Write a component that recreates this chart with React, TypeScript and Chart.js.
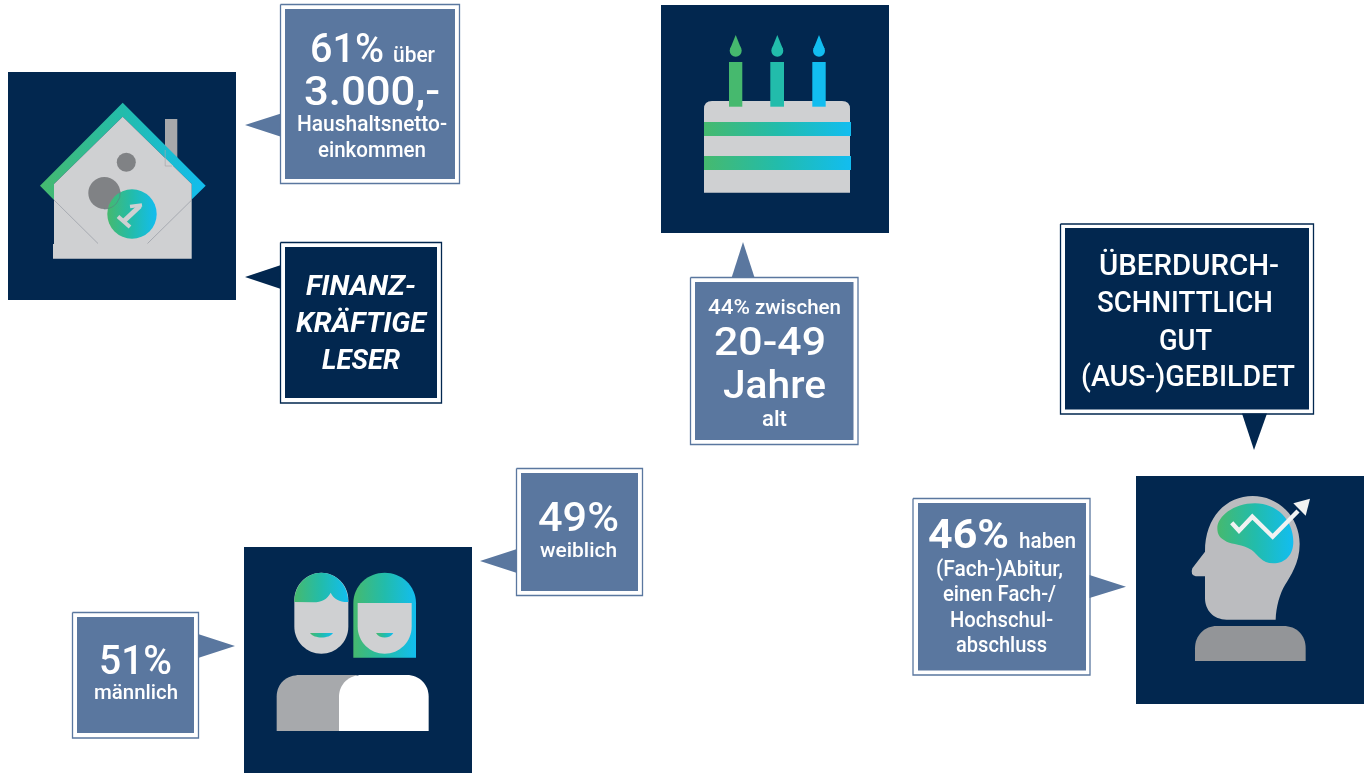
import React, { useEffect, useRef } from "react";
import { Chart, registerables } from "chart.js";

Chart.register(...registerables);

// ---- data ----
const incomeShare = 61;
const ageShare = 44;
const femaleShare = 49;
const maleShare = 51;
const educationShare = 46;
const incomeLines = ["über", "3.000,-", "Haushaltsnetto-", "einkommen"];
const financeLines = ["FINANZ-", "KRÄFTIGE", "LESER"];
const ageLines = ["zwischen", "20-49", "Jahre", "alt"];
const genderLabels = ["weiblich", "männlich"];
const educationLines = ["haben", "(Fach-)Abitur,", "einen Fach-/", "Hochschul-", "abschluss"];
const educatedLines = ["ÜBERDURCH-", "SCHNITTLICH", "GUT", "(AUS-)GEBILDET"];

// ---- styles ----
const NAVY = "#02274f";
const BLUE = "#5a779f";
const GREEN = "#46b96e";
const CYAN = "#12bdf0";
const FONT = 'Roboto, "Noto Sans", sans-serif';

type Pt = { x: number; y: number };
const rect = (l: number, t: number, r: number, b: number): Pt[] => [
  { x: l, y: t }, { x: r, y: t }, { x: r, y: b }, { x: l, y: b }, { x: l, y: t },
];
const tri = (a: number[], b: number[], c: number[]): Pt[] => [
  { x: a[0], y: a[1] }, { x: b[0], y: b[1] }, { x: c[0], y: c[1] }, { x: a[0], y: a[1] },
];
const solid = (data: Pt[], color: string) => ({
  data, showLine: true, pointRadius: 0, borderWidth: 0, borderColor: color,
  backgroundColor: color, fill: "shape", tension: 0, clip: false,
});
const frame = (data: Pt[], color: string) => ({
  data, showLine: true, pointRadius: 0, borderWidth: 1.3, borderColor: color,
  backgroundColor: "transparent", fill: false, tension: 0, clip: false,
  borderJoinStyle: "miter",
});

const datasets: any[] = [
  // icon panels
  solid(rect(8, 72, 236, 300), NAVY),
  solid(rect(661, 5, 889, 233), NAVY),
  solid(rect(244, 547, 472, 773), NAVY),
  solid(rect(1136, 476, 1364, 704), NAVY),
  // income box
  frame(rect(280.5, 4.5, 459.5, 183.5), BLUE),
  solid(rect(285, 9, 455, 179), BLUE),
  solid(tri([245, 125], [281, 113.5], [281, 136.7]), BLUE),
  // finance box
  frame(rect(280.5, 242.5, 441.5, 403), NAVY),
  solid(rect(285, 247, 437, 398), NAVY),
  solid(tri([245, 277], [281, 265], [281, 289]), NAVY),
  // age box
  frame(rect(690.5, 277.5, 858, 444.5), BLUE),
  solid(rect(695, 282, 853.5, 440), BLUE),
  solid(tri([743, 242], [731.5, 278], [754.7, 278]), BLUE),
  // female box
  frame(rect(516.5, 468.5, 642.5, 595.5), BLUE),
  solid(rect(521, 473, 638, 591), BLUE),
  solid(tri([480, 561], [517, 549], [517, 573]), BLUE),
  // male box
  frame(rect(72.5, 612.5, 198.5, 738), BLUE),
  solid(rect(77, 617, 194, 733), BLUE),
  solid(tri([235, 646], [198, 634], [198, 658]), BLUE),
  // education box
  frame(rect(913, 498.5, 1090, 675), BLUE),
  solid(rect(918, 503, 1086, 670.5), BLUE),
  solid(tri([1126, 586.7], [1089.5, 575], [1089.5, 598]), BLUE),
  // educated box
  frame(rect(1060.5, 224, 1313.5, 414), NAVY),
  solid(rect(1065, 228, 1309, 409.5), NAVY),
  solid(tri([1254, 450], [1242, 413.5], [1267, 413.5]), NAVY),
];

type T = [string, number, number, number, number, number?, boolean?, string?];
// text, left, right, baseline, font size, weight, italic
const texts: T[] = [
  [`${incomeShare}%`, 310, 384, 62, 40, 500],
  [incomeLines[0], 393, 435, 62, 22, 500],
  [incomeLines[1], 304, 440, 105, 40, 500],
  [incomeLines[2], 297, 447, 131, 22, 500],
  [incomeLines[3], 318, 426, 157, 22, 500],
  [financeLines[0], 306, 416, 295, 28, 700, true],
  [financeLines[1], 296, 426, 332, 28, 700, true],
  [financeLines[2], 322, 400, 369, 28, 700, true],
  [`${ageShare}%`, 708, 750, 314, 21, 500],
  [ageLines[0], 755, 841, 314, 21, 500],
  [ageLines[1], 714, 826, 355, 39, 500],
  [ageLines[2], 723, 826, 398, 39, 500],
  [ageLines[3], 762, 787, 426, 22, 500],
  [`${femaleShare}%`, 538, 619, 531, 40, 500],
  [genderLabels[0], 540, 617, 557, 20, 500],
  [`${maleShare}%`, 99, 172, 674, 40, 500],
  [genderLabels[1], 94, 178, 699, 20, 500],
  [`${educationShare}%`, 928, 1009, 548, 41, 700],
  [educationLines[0], 1019, 1076, 548, 22, 500],
  [educationLines[1], 936, 1063, 576, 22, 500],
  [educationLines[2], 943, 1056, 601, 22, 500],
  [educationLines[3], 950, 1053, 627, 22, 500],
  [educationLines[4], 956, 1047, 652, 22, 500],
  [educatedLines[0], 1099, 1279, 275, 29, 500],
  [educatedLines[1], 1097, 1273, 312, 29, 500],
  [educatedLines[2], 1159, 1212, 350, 29, 500],
  [educatedLines[3], 1081, 1295, 386, 29, 500],
];

const artwork = {
  id: "artwork",
  afterDatasetsDraw(chart: any) {
    const { ctx } = chart;
    const X = (v: number) => chart.scales.x.getPixelForValue(v);
    const Y = (v: number) => chart.scales.y.getPixelForValue(v);
    const grad = (a: number, b: number) => {
      const g = ctx.createLinearGradient(X(a), 0, X(b), 0);
      g.addColorStop(0, GREEN);
      g.addColorStop(0.5, "#22bcab");
      g.addColorStop(1, CYAN);
      return g;
    };
    const poly = (pts: number[][], fill: any) => {
      ctx.beginPath();
      pts.forEach((p, i) => (i ? ctx.lineTo(X(p[0]), Y(p[1])) : ctx.moveTo(X(p[0]), Y(p[1]))));
      ctx.closePath();
      ctx.fillStyle = fill;
      ctx.fill();
    };
    const circle = (x: number, y: number, r: number, fill: any) => {
      ctx.beginPath();
      ctx.arc(X(x), Y(y), r, 0, Math.PI * 2);
      ctx.fillStyle = fill;
      ctx.fill();
    };
    const line = (pts: number[][], color: string, w: number, cap = "butt") => {
      ctx.beginPath();
      pts.forEach((p, i) => (i ? ctx.lineTo(X(p[0]), Y(p[1])) : ctx.moveTo(X(p[0]), Y(p[1]))));
      ctx.strokeStyle = color;
      ctx.lineWidth = w;
      ctx.lineCap = cap;
      ctx.lineJoin = "miter";
      ctx.stroke();
    };
    // path in 3x zoom coordinates: arrays of 2 (line), 4 (quad), 6 (cubic) numbers
    const curve = (ox: number, oy: number, segs: number[][], fill: any) => {
      const px = (v: number) => X(ox + v / 3);
      const py = (v: number) => Y(oy + v / 3);
      ctx.beginPath();
      segs.forEach((s, i) => {
        if (i === 0) ctx.moveTo(px(s[0]), py(s[1]));
        else if (s.length === 2) ctx.lineTo(px(s[0]), py(s[1]));
        else if (s.length === 4) ctx.quadraticCurveTo(px(s[0]), py(s[1]), px(s[2]), py(s[3]));
        else ctx.bezierCurveTo(px(s[0]), py(s[1]), px(s[2]), py(s[3]), px(s[4]), py(s[5]));
      });
      ctx.closePath();
      ctx.fillStyle = fill;
      ctx.fill();
    };

    ctx.save();

    // ---- house ----
    poly([[165, 119], [177.3, 119], [177.3, 166], [165, 166]], "#a7a8ab");
    poly(
      [[122.7, 102.7], [205.7, 185.7], [191.7, 199.5], [191.7, 184], [122.7, 116.7], [54, 184], [54, 200], [40, 185.7]],
      grad(40, 205.7)
    );
    poly([[54, 184], [122.7, 116.7], [191.7, 184], [191.7, 258.7], [53, 258.7], [53, 244], [54, 244]], "#cfd0d2");
    line([[165.2, 150], [165.2, 166], [172, 166]], "#a7a8ab", 0.7);
    line([[54, 200], [98, 243.5]], "#8b909a", 0.6);
    line([[191.7, 200], [147.5, 243.5]], "#8b909a", 0.6);
    circle(126.3, 162.3, 9.5, "#808285");
    circle(104.3, 193, 16, "#808285");
    circle(132, 214, 24.7, grad(107.3, 156.7));
    ctx.beginPath();
    ctx.arc(X(104.3), Y(193), 16, -0.1, 1.6);
    ctx.strokeStyle = "#5c7a80";
    ctx.lineWidth = 0.6;
    ctx.stroke();
    line([[118, 216.5], [130, 227]], "#cfd0d2", 4);
    line([[124, 221], [140, 206]], "#cfd0d2", 5);
    line([[130, 206.5], [142, 205]], "#cfd0d2", 3.6);

    // ---- cake ----
    ctx.beginPath();
    ctx.moveTo(X(704), Y(192.7));
    ctx.lineTo(X(704), Y(109));
    ctx.quadraticCurveTo(X(704), Y(101), X(712), Y(101));
    ctx.lineTo(X(842), Y(101));
    ctx.quadraticCurveTo(X(850), Y(101), X(850), Y(109));
    ctx.lineTo(X(850), Y(192.7));
    ctx.closePath();
    ctx.fillStyle = "#cfd0d2";
    ctx.fill();
    [[729, 742.3, 735.7, GREEN], [770.3, 784, 777.3, "#22bcab"], [812.3, 825.7, 819, CYAN]].forEach((c: any) => {
      poly([[c[0], 62], [c[1], 62], [c[1], 106.7], [c[0], 106.7]], c[3]);
      circle(c[2], 50.7, 6, c[3]);
      poly([[c[2], 35], [c[2] + 5.6, 49], [c[2] - 5.6, 49]], c[3]);
    });
    poly([[704, 122], [851, 122], [851, 136], [704, 136]], grad(704, 851));
    poly([[704, 156], [851, 156], [851, 170], [704, 170]], grad(704, 851));

    // ---- people ----
    const gL = grad(294.3, 348.3);
    const gR = grad(353.3, 416);
    // right person's hair
    curve(240, 540, [[340, 353], [340, 190], [340, 135, 385, 98, 434, 98], [483, 98, 528, 135, 528, 190], [528, 353]], gR);
    // left person's face
    curve(240, 540, [[163, 180], [163, 135, 200, 98, 244, 98], [288, 98, 325, 135, 325, 180], [325, 260], [325, 305, 288, 341, 244, 341], [200, 341, 163, 305, 163, 260]], "#cfd0d2");
    // left person's hair
    curve(240, 540, [[163, 186], [163, 135, 200, 98, 244, 98], [288, 98, 325, 135, 325, 186], [300, 187, 282, 178, 272, 158], [262, 178, 245, 187, 220, 187]], gL);
    // right person's face
    curve(240, 540, [[353, 189], [515, 189], [515, 260], [515, 305, 478, 341, 434, 341], [390, 341, 353, 305, 353, 260]], "#cfd0d2");
    // mouths
    curve(240, 540, [[210, 279], [279, 279], [268, 297, 222, 297, 210, 279]], grad(310, 333));
    curve(240, 540, [[408, 279], [460, 279], [450, 297, 418, 297, 408, 279]], grad(376, 393.3));
    // bodies
    curve(240, 540, [[110, 573], [110, 470], [110, 430, 140, 405, 180, 405], [350, 405], [350, 573]], "#a7a9ac");
    curve(240, 540, [[297, 573], [297, 470], [297, 430, 330, 405, 365, 405], [500, 405], [540, 405, 566, 435, 566, 470], [566, 573]], "#ffffff");

    // ---- head ----
    curve(1130, 470, [
      [225, 245], [225, 140, 290, 78, 368, 78], [445, 78, 509, 140, 509, 222],
      [509, 280, 480, 320, 465, 345], [450, 370, 438, 410, 437, 449], [290, 449],
      [250, 449, 225, 420, 225, 385], [225, 319], [197, 319], [180, 315, 187, 295], [225, 245],
    ], "#bbbcbf");
    curve(1130, 470, [
      [262, 175], [262, 140, 310, 100, 375, 100], [440, 100, 490, 150, 490, 215],
      [490, 255, 465, 280, 430, 280], [395, 280, 385, 255, 365, 240],
      [335, 220, 310, 225, 290, 215], [270, 205, 262, 195, 262, 175],
    ], grad(1217, 1293));
    curve(1130, 470, [[195, 573], [195, 535], [195, 495, 225, 468, 260, 468], [460, 468], [500, 468, 527, 495, 527, 535], [527, 573]], "#939598");
    line(
      [[1231.7, 522.7], [1239, 530.7], [1252.3, 516.7], [1272.7, 536.7], [1298, 511]],
      "#f1f2f2",
      4.4
    );
    poly([[1310, 498.7], [1293.3, 503.3], [1305.7, 515.7]], "#f1f2f2");

    // ---- text ----
    ctx.fillStyle = "#ffffff";
    ctx.textBaseline = "alphabetic";
    ctx.textAlign = "left";
    texts.forEach(([s, l, r, b, size, weight, italic]) => {
      ctx.font = `${italic ? "italic " : ""}${weight || 500} ${size}px ${FONT}`;
      const w = ctx.measureText(s).width;
      ctx.save();
      ctx.translate(X(l), Y(b));
      ctx.scale((X(r) - X(l)) / w, 1);
      ctx.fillText(s, 0, 0);
      ctx.restore();
    });
    ctx.restore();
  },
};

export default function App() {
  const ref = useRef<HTMLCanvasElement>(null);
  useEffect(() => {
    document.body.style.margin = "0";
    document.body.style.background = "#ffffff";
    const chart = new Chart(ref.current as HTMLCanvasElement, {
      type: "scatter",
      data: { datasets },
      options: {
        animation: false,
        responsive: false,
        layout: { padding: 0 },
        plugins: { legend: { display: false }, tooltip: { enabled: false }, title: { display: false } },
        scales: {
          x: { type: "linear", min: 0, max: 1365, display: false },
          y: { type: "linear", min: 0, max: 773, reverse: true, display: false },
        },
      },
      plugins: [artwork],
    } as any);
    return () => chart.destroy();
  }, []);
  return <canvas ref={ref} width={1365} height={773} style={{ display: "block" }} />;
}
